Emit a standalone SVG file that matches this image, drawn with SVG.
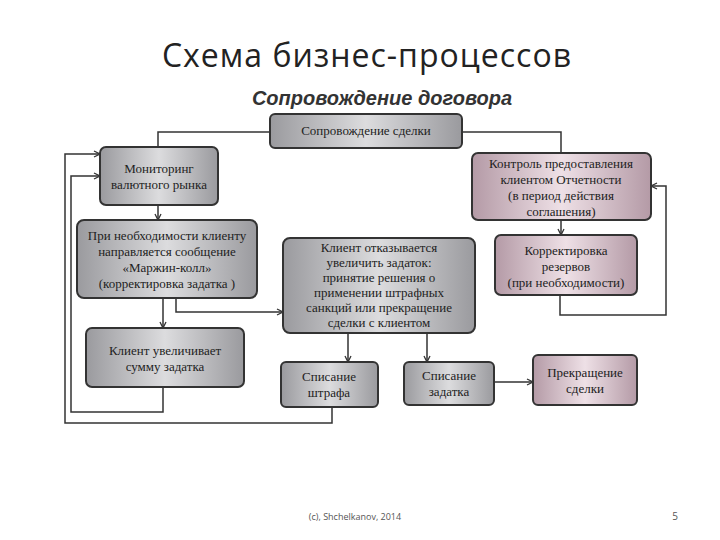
<svg xmlns="http://www.w3.org/2000/svg" width="720" height="540" viewBox="0 0 720 540">
<style>
.b{stroke:#333;stroke-width:2}
.g{fill:url(#gg)}
.p{fill:url(#pg)}
.t{font-family:"Liberation Serif",serif;font-size:13px;fill:#222;text-anchor:middle}
.c{fill:none;stroke:#333;stroke-width:1.5}
</style>
<defs>
<linearGradient id="gg" x1="0" y1="0" x2="1" y2="0"><stop offset="0" stop-color="#9a9a9e"/><stop offset="0.5" stop-color="#dcdcde"/><stop offset="1" stop-color="#9a9a9e"/></linearGradient>
<linearGradient id="pg" x1="0" y1="0" x2="1" y2="0"><stop offset="0" stop-color="#b49aa6"/><stop offset="0.5" stop-color="#eee0e6"/><stop offset="1" stop-color="#b49aa6"/></linearGradient>
<marker id="a" markerWidth="8" markerHeight="8" refX="7" refY="4" orient="auto" markerUnits="userSpaceOnUse"><path d="M1,1 L7,4 L1,7" fill="none" stroke="#333" stroke-width="1.3"/></marker>
</defs>
<rect width="720" height="540" fill="#fff"/>
<text x="367" y="67" font-family="Open Sans,sans-serif" font-size="32" letter-spacing="1" text-anchor="middle" fill="#222">Схема бизнес-процессов</text>
<text x="382" y="105" font-family="Liberation Sans,sans-serif" font-size="20" font-weight="bold" font-style="italic" text-anchor="middle" fill="#333">Сопровождение договора</text>
<g id="connectors">
<path class="c" d="M270,132 H158 V147"/>
<path class="c" d="M462,132 H561 V153"/>
<path class="c" d="M332,407 V423 H65 V154 H100" marker-end="url(#a)"/>
<path class="c" d="M163,387 V412 H71 V176 H100" marker-end="url(#a)"/>
<path class="c" d="M158,205 V220" marker-end="url(#a)"/>
<path class="c" d="M163,298 V328" marker-end="url(#a)"/>
<path class="c" d="M176,298 V312 H283" marker-end="url(#a)"/>
<path class="c" d="M348,333 V362" marker-end="url(#a)"/>
<path class="c" d="M427,333 V362" marker-end="url(#a)"/>
<path class="c" d="M494,382 H533" marker-end="url(#a)"/>
<path class="c" d="M561,220 V235" marker-end="url(#a)"/>
<path class="c" d="M560,295 V315 H666 V186 H651" marker-end="url(#a)"/>
</g>
<g id="n1"><rect class="b g" x="270" y="114" width="192" height="34" rx="5"/><text class="t" x="366" y="135">Сопровождение сделки</text></g>
<g id="n2"><rect class="b g" x="100" y="147" width="118" height="58" rx="6"/><text class="t" x="159" y="173">Мониторинг</text><text class="t" x="159" y="189">валютного рынка</text></g>
<g id="n3"><rect class="b p" x="472" y="153" width="179" height="67" rx="6"/><text class="t" x="561" y="168">Контроль предоставления</text><text class="t" x="561" y="184">клиентом Отчетности</text><text class="t" x="561" y="200">(в период действия</text><text class="t" x="561" y="216">соглашения)</text></g>
<g id="n4"><rect class="b g" x="77" y="220" width="180" height="78" rx="7"/><text class="t" x="167" y="240">При необходимости клиенту</text><text class="t" x="167" y="256">направляется сообщение</text><text class="t" x="167" y="272">«Маржин-колл»</text><text class="t" x="167" y="288">(корректировка задатка )</text></g>
<g id="n5"><rect class="b g" x="283" y="238" width="192" height="95" rx="7"/><text class="t" x="379" y="252">Клиент отказывается</text><text class="t" x="379" y="267">увеличить задаток:</text><text class="t" x="379" y="282">принятие решения о</text><text class="t" x="379" y="297">применении штрафных</text><text class="t" x="379" y="312">санкций или прекращение</text><text class="t" x="379" y="327">сделки с клиентом</text></g>
<g id="n6"><rect class="b p" x="495" y="235" width="142" height="60" rx="6"/><text class="t" x="566" y="255">Корректировка</text><text class="t" x="566" y="271">резервов</text><text class="t" x="566" y="287">(при необходимости)</text></g>
<g id="n7"><rect class="b g" x="86" y="328" width="158" height="59" rx="6"/><text class="t" x="165" y="355">Клиент увеличивает</text><text class="t" x="165" y="371">сумму задатка</text></g>
<g id="n8"><rect class="b g" x="281" y="362" width="97" height="45" rx="5"/><text class="t" x="329" y="381">Списание</text><text class="t" x="329" y="397">штрафа</text></g>
<g id="n9"><rect class="b g" x="404" y="362" width="90" height="43" rx="5"/><text class="t" x="449" y="380">Списание</text><text class="t" x="449" y="396">задатка</text></g>
<g id="n10"><rect class="b p" x="533" y="355" width="104" height="50" rx="5"/><text class="t" x="585" y="377">Прекращение</text><text class="t" x="585" y="393">сделки</text></g>
<text x="355" y="520" font-family="Open Sans,sans-serif" font-size="9" text-anchor="middle" fill="#555">(c), Shchelkanov, 2014</text>
<text x="675" y="520" font-family="Open Sans,sans-serif" font-size="10" text-anchor="middle" fill="#555">5</text>
</svg>
